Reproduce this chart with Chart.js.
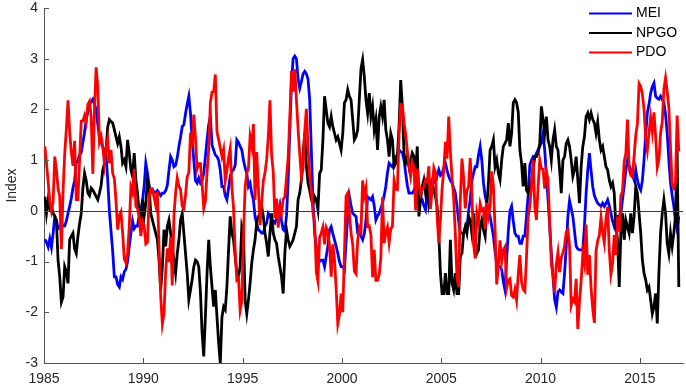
<!DOCTYPE html>
<html lang="en">
<head>
    <meta charset="UTF-8">
    <title>MEI, NPGO and PDO indices</title>
    <script src="https://cdn.jsdelivr.net/npm/chart.js"></script>
    <style>
        body { margin: 0; background: #fff; }
        #wrap { width: 686px; height: 388px; }
    </style>
</head>
<body>
<div id="wrap"><canvas id="indexChart" width="686" height="388"></canvas></div>
<script>
    // monthly values, Jan 1985 .. Dec 2016 (one row per year)
    const startYear = 1985;

    const mei = [
        -0.56,-0.62,-0.71,-0.55,-0.72,-0.45,-0.12,-0.18,-0.35,-0.32,-0.25,-0.30,
        -0.30,-0.20,-0.05,0.09,0.25,0.45,0.60,0.95,1.00,1.10,1.15,1.35,
        1.55,1.80,1.95,2.10,2.15,2.20,2.10,2.00,1.70,1.45,1.35,1.25,
        1.20,1.10,0.60,0.00,-0.40,-0.80,-1.30,-1.30,-1.45,-1.50,-1.30,-1.35,
        -1.20,-1.15,-1.00,-0.70,-0.44,-0.20,-0.35,-0.30,-0.30,-0.10,0.00,0.20,
        0.48,0.94,0.75,0.50,0.35,0.38,0.38,0.36,0.40,0.35,0.30,0.35,
        0.35,0.40,0.50,0.80,1.07,1.00,0.87,0.90,1.05,1.27,1.45,1.66,
        1.70,1.92,2.10,2.26,1.92,1.40,1.00,0.60,0.55,0.65,0.55,0.60,
        0.74,1.07,1.40,1.70,1.86,1.30,1.20,1.10,1.07,1.00,0.80,0.48,
        0.48,0.30,0.22,0.45,0.68,0.78,0.81,0.90,1.40,1.35,1.27,1.20,
        1.00,0.85,0.74,0.48,0.55,0.35,0.22,-0.11,-0.25,-0.37,-0.40,-0.44,
        -0.44,-0.30,-0.24,-0.05,-0.10,-0.18,-0.20,-0.24,-0.15,-0.05,0.10,-0.20,
        -0.37,-0.40,-0.10,0.60,1.60,2.50,3.00,3.05,3.00,2.60,2.42,2.55,
        2.70,2.75,2.70,2.60,2.20,1.20,0.20,-0.44,-0.70,-0.97,-1.00,-0.97,
        -0.97,-1.10,-0.90,-0.70,-0.37,-0.31,-0.45,-0.57,-0.70,-0.84,-1.00,-1.10,
        -1.10,-1.16,-0.60,-0.11,0.28,0.10,-0.05,-0.08,-0.11,-0.44,-0.44,-0.50,
        -0.57,-0.45,-0.20,0.28,0.25,0.22,0.28,0.10,-0.18,-0.10,-0.05,0.05,
        0.15,0.30,0.48,0.75,0.94,0.90,0.87,0.95,1.07,1.10,1.20,1.17,
        1.14,1.00,0.74,0.50,0.35,0.35,0.35,0.40,0.48,0.35,0.15,0.20,
        0.22,0.10,0.02,0.30,0.48,0.55,0.61,0.58,0.55,0.70,0.81,0.70,
        0.74,0.85,0.94,0.80,0.68,0.60,0.55,0.45,0.35,0.09,-0.20,-0.44,
        -0.44,-0.44,-0.40,-0.37,0.00,0.22,0.60,0.74,0.87,0.87,1.10,1.27,
        1.00,0.55,0.30,0.15,0.00,-0.11,-0.30,-0.50,-0.80,-1.03,-1.10,-1.10,
        -1.16,-1.40,-1.56,-0.95,-0.40,0.00,0.09,-0.20,-0.44,-0.50,-0.50,-0.64,
        -0.64,-0.50,-0.50,-0.10,0.30,0.90,1.00,1.07,1.05,1.14,1.20,1.27,
        1.35,1.53,1.20,0.70,0.22,-0.30,-0.84,-1.30,-1.75,-1.90,-1.60,-1.56,
        -1.60,-1.63,-1.23,-0.70,-0.11,0.20,0.05,-0.11,-0.40,-0.70,-0.75,-0.77,
        -0.77,-0.77,-0.30,0.35,0.80,1.14,0.80,0.48,0.30,0.22,0.15,0.12,
        0.09,0.15,0.09,0.15,0.22,0.10,-0.05,-0.20,-0.31,-0.18,-0.11,-0.11,
        -0.05,0.22,0.50,0.80,1.00,0.90,0.81,0.70,0.61,0.81,0.60,0.48,
        0.41,0.60,1.00,1.50,1.93,2.10,2.32,2.45,2.52,2.26,2.22,2.20,
        2.26,2.20,2.13,1.90,1.53,1.00,0.55,0.30,0.09,-0.20,-0.37,-0.11
    ];

    const npgo = [
        0.28,-0.05,0.22,0.05,0.10,-0.05,-0.10,-0.20,-0.97,-1.30,-1.80,-1.70,
        -1.10,-1.20,-1.43,-0.57,-0.50,-0.44,-0.75,-0.84,-0.50,-0.25,-0.05,0.45,
        0.74,0.60,0.35,0.30,0.45,0.41,0.35,0.28,0.22,0.35,0.50,0.80,
        0.94,1.20,1.66,1.80,1.76,1.73,1.60,1.46,1.33,1.46,1.27,0.94,
        1.00,0.87,1.40,1.14,0.81,0.68,1.14,0.61,0.35,-0.05,-0.31,0.22,
        -0.11,0.15,0.61,0.48,-0.05,-0.18,-0.31,-0.44,-0.57,-0.97,-1.56,-1.10,
        -0.37,-0.70,-0.31,-0.18,-0.44,-0.70,-0.97,-1.23,-0.84,-0.57,-0.18,-0.05,
        -0.44,-0.84,-1.23,-1.75,-1.56,-1.36,-1.10,-0.97,-1.00,-1.10,-1.60,-2.40,
        -2.87,-2.09,-1.23,-0.57,-1.10,-1.50,-1.89,-1.56,-2.09,-2.60,-3.00,-2.10,
        -1.89,-1.95,-1.50,-0.77,-0.11,-0.44,-0.57,-0.90,-1.23,-1.30,-1.10,-0.31,
        -0.44,-1.76,-2.03,-1.76,-1.43,-1.03,-0.77,-0.57,-0.24,-0.11,-0.05,0.09,
        -0.11,-0.44,-0.64,-0.90,-0.44,-0.05,-0.44,-0.57,-0.64,-0.90,-1.10,-1.30,
        -1.63,-0.84,-0.37,-0.57,-0.70,-0.64,-0.57,-0.44,-0.31,0.22,0.35,0.61,
        1.10,1.53,0.90,0.55,0.41,0.22,0.15,0.28,0.22,0.02,0.74,0.81,
        1.40,2.26,1.99,1.73,1.66,1.86,1.66,1.53,1.40,1.46,1.33,1.20,
        1.53,2.13,2.19,2.39,2.26,2.19,1.80,1.40,1.46,1.60,2.20,2.80,
        2.98,2.65,2.19,1.93,2.32,1.86,2.06,1.60,1.80,1.20,1.86,2.06,
        1.86,2.19,1.60,1.40,1.07,1.53,1.40,0.87,0.94,1.07,1.66,2.58,
        2.06,1.14,0.94,1.07,0.87,1.00,1.14,1.07,0.74,1.27,-0.11,0.22,
        0.48,0.61,0.35,0.61,0.15,0.35,0.55,0.41,0.28,0.09,-0.44,-1.23,
        -1.63,-1.63,-1.23,-1.63,-1.63,-0.57,-1.43,-1.56,-1.23,-1.63,-1.63,-0.90,
        -0.84,-0.44,-0.31,-0.44,-0.11,-0.18,-0.44,-0.05,-0.57,-0.84,-0.77,-0.31,
        -0.18,-0.37,-0.50,0.09,0.55,1.20,1.27,1.40,0.87,1.00,0.74,0.61,
        1.00,1.27,1.33,1.40,1.73,1.27,1.53,2.13,2.19,2.13,1.95,1.20,
        0.94,0.48,0.94,0.41,0.35,0.48,0.55,0.81,1.07,1.07,1.14,1.33,
        2.06,1.80,1.53,1.86,1.40,1.27,1.00,1.40,1.60,1.27,1.20,0.81,
        0.35,1.00,1.07,1.33,1.40,1.27,1.00,0.68,0.81,1.07,0.61,0.15,
        0.87,1.27,1.46,1.86,1.93,1.80,1.93,1.80,1.73,1.53,1.75,1.40,
        1.20,1.27,1.07,0.87,0.81,0.61,0.48,0.55,0.35,-0.31,-0.57,-1.50,
        -0.44,-0.05,-0.57,-0.18,-0.31,-0.44,-0.05,-0.44,-0.11,0.48,0.35,-0.05,
        -0.44,-0.97,-1.23,-1.36,-1.56,-1.50,-1.76,-2.03,-1.89,-1.63,-2.22,-1.20,
        -0.44,-0.05,0.22,-0.05,-0.64,-0.84,-0.44,-0.70,-0.44,-0.11,1.20,-1.50
    ];

    const pdo = [
        1.27,0.94,0.57,0.19,0.00,0.18,1.07,0.81,0.44,0.29,-0.75,0.38,
        1.12,1.61,2.18,1.55,1.16,0.89,1.38,0.22,0.22,1.00,1.77,1.77,
        1.88,1.75,2.10,2.16,1.85,0.73,2.01,2.83,2.44,1.36,1.47,1.27,
        0.93,1.24,1.42,0.94,1.20,0.74,0.64,0.19,-0.37,-0.10,-0.02,-0.43,
        -0.95,-1.02,-0.83,-0.32,0.47,0.36,0.83,0.09,0.05,-0.12,-0.50,-0.21,
        -0.30,-0.65,-0.62,0.27,0.44,0.44,0.27,0.11,0.38,-0.69,-1.69,-2.23,
        -2.02,-1.19,-0.74,-1.01,-0.51,-1.47,-0.10,0.36,0.65,0.49,0.42,0.09,
        0.05,0.31,0.67,0.75,1.54,1.26,1.90,1.44,0.83,0.93,0.93,0.53,
        0.05,0.19,0.76,1.21,2.13,2.34,2.35,2.69,1.56,1.41,1.24,1.07,
        1.21,0.59,0.80,1.05,1.23,0.46,0.06,-0.79,-1.36,-1.32,-1.96,-1.79,
        -0.49,0.46,0.75,0.83,1.46,1.27,1.71,0.21,1.16,0.47,-0.28,0.16,
        0.59,0.75,1.01,1.46,2.18,1.10,0.77,-0.14,0.24,-0.33,0.09,-0.03,
        0.23,0.28,0.65,1.05,1.83,2.76,2.35,2.79,2.19,1.61,1.12,0.67,
        0.83,1.56,2.01,1.27,0.70,0.40,-0.04,-0.22,-1.21,-1.39,-0.52,-0.44,
        -0.32,-0.66,-0.33,-0.41,-0.68,-1.30,-0.66,-0.96,-1.53,-2.23,-2.05,-1.63,
        -2.00,-0.83,0.29,0.35,-0.05,-0.44,-0.66,-1.19,-1.24,-0.58,-0.33,-0.41,
        0.60,0.29,0.45,-0.31,-0.30,-0.47,-1.31,-0.77,-1.37,-1.37,-1.26,-0.93,
        0.27,-0.64,-0.43,-0.32,-0.63,-0.35,-0.31,0.60,0.43,0.42,1.51,2.10,
        2.09,1.75,1.51,1.18,0.89,0.68,0.96,0.88,0.01,0.83,0.52,0.33,
        0.43,0.48,0.61,0.57,0.88,0.04,0.44,0.85,0.75,-0.11,-0.63,-0.17,
        0.44,0.81,1.36,1.03,1.86,1.17,0.66,0.25,-0.46,-1.32,-1.50,0.20,
        1.03,0.66,0.05,0.40,0.48,1.04,0.35,-0.65,-0.94,-0.05,-0.22,0.14,
        0.01,0.04,-0.36,0.16,-0.10,0.09,0.78,0.50,-0.36,-1.45,-1.08,-0.58,
        -1.00,-0.77,-0.71,-1.52,-1.37,-1.34,-1.67,-1.70,-1.55,-1.76,-1.25,-0.87,
        -1.40,-1.55,-1.59,-0.90,-0.11,0.09,0.48,1.00,0.09,-0.18,0.48,1.00,
        0.83,0.82,0.44,0.78,0.62,-0.22,-1.05,-1.27,-1.61,-1.06,-0.82,-1.21,
        -0.92,-0.83,-0.69,-0.42,-0.37,-0.69,-1.86,-1.74,-1.79,-1.34,-2.33,-1.79,
        -1.38,-0.85,-1.05,-0.27,-1.26,-0.87,-1.52,-1.93,-2.21,-0.79,-0.59,-0.48,
        -0.13,-0.43,-0.63,-0.16,0.08,-0.78,-1.25,-1.04,-0.48,-0.87,-0.11,-0.41,
        0.30,0.38,0.97,1.13,1.80,0.82,0.70,0.67,1.08,1.49,1.72,2.51,
        2.45,2.30,2.00,1.44,1.20,1.54,1.84,1.56,1.94,1.47,0.86,1.01,
        1.53,1.75,2.40,2.62,2.35,2.03,1.25,0.52,0.45,0.56,1.88,1.17
    ];

    const seriesNames = ['MEI', 'NPGO', 'PDO'];
    const seriesColors = ['#0000ff', '#000000', '#ff0000'];
    const yearTicks = [1985, 1990, 1995, 2000, 2005, 2010, 2015];
    const indexTicks = [-3, -2, -1, 0, 1, 2, 3, 4];

    const fontFamily = '"Liberation Sans", Arial, Helvetica, sans-serif';
    const axisColor = '#262626';

    // each monthly value sits in the middle of its month
    function toPoints(values) {
        return values.map((v, i) => ({ x: startYear + (i + 0.5) / 12, y: v }));
    }

    // inward tick marks, the zero line and the legend in the top right corner
    const axisExtras = {
        id: 'axisExtras',
        afterDatasetsDraw(chart) {
            const { ctx, chartArea: area, scales } = chart;
            ctx.save();

            const y0 = Math.round(scales.y.getPixelForValue(0)) + 0.5;
            ctx.strokeStyle = '#3a3a3a';
            ctx.lineWidth = 1;
            ctx.beginPath();
            ctx.moveTo(area.left, y0);
            ctx.lineTo(area.right, y0);
            ctx.stroke();

            ctx.strokeStyle = '#555';
            ctx.beginPath();
            yearTicks.forEach(t => {
                const px = Math.round(scales.x.getPixelForValue(t)) + 0.5;
                ctx.moveTo(px, area.bottom);
                ctx.lineTo(px, area.bottom - 5);
            });
            indexTicks.forEach(t => {
                const py = Math.round(scales.y.getPixelForValue(t)) + 0.5;
                ctx.moveTo(area.left, py);
                ctx.lineTo(area.left + 5, py);
            });
            ctx.stroke();

            ctx.font = '14px ' + fontFamily;
            ctx.textBaseline = 'middle';
            ctx.textAlign = 'left';
            chart.data.datasets.forEach((ds, i) => {
                const rowY = area.top + 5.5 + i * 19.5;
                ctx.strokeStyle = ds.borderColor;
                ctx.lineWidth = 2;
                ctx.beginPath();
                ctx.moveTo(area.right - 94, rowY);
                ctx.lineTo(area.right - 51, rowY);
                ctx.stroke();
                ctx.fillStyle = '#000';
                ctx.fillText(ds.label, area.right - 47, rowY);
            });
            ctx.restore();
        }
    };

    const seriesValues = [mei, npgo, pdo];
    const datasets = seriesNames.map((name, i) => ({
        label: name,
        data: toPoints(seriesValues[i]),
        borderColor: seriesColors[i],
        backgroundColor: seriesColors[i],
        borderWidth: 2.8,
        pointRadius: 0,
        tension: 0,
        fill: false,
        order: 3 - i   // PDO drawn last, on top
    }));

    const ctx = document.getElementById('indexChart').getContext('2d');
    new Chart(ctx, {
        type: 'line',
        data: { datasets: datasets },
        options: {
            responsive: false,
            animation: false,
            devicePixelRatio: 1,
            layout: { padding: { left: 0, right: 3, top: 8, bottom: 0 } },
            plugins: {
                legend: { display: false },
                tooltip: { enabled: false }
            },
            scales: {
                x: {
                    type: 'linear',
                    min: 1985,
                    max: 2017.17,
                    afterBuildTicks: scale => {
                        scale.ticks = yearTicks.map(v => ({ value: v }));
                    },
                    afterFit: scale => {
                        scale.height = 25;
                        scale.paddingLeft = 0;
                        scale.paddingRight = 0;
                    },
                    ticks: {
                        callback: v => String(v),
                        font: { family: fontFamily, size: 14 },
                        color: axisColor,
                        padding: 8,
                        maxRotation: 0,
                        autoSkip: false
                    },
                    grid: { display: false, drawTicks: false },
                    border: { display: true, color: '#555', width: 1 }
                },
                y: {
                    type: 'linear',
                    min: -3,
                    max: 4,
                    afterBuildTicks: scale => {
                        scale.ticks = indexTicks.map(v => ({ value: v }));
                    },
                    afterFit: scale => {
                        scale.width = 44;
                        scale.paddingTop = 0;
                        scale.paddingBottom = 0;
                    },
                    ticks: {
                        callback: v => String(v),
                        font: { family: fontFamily, size: 14 },
                        color: axisColor,
                        padding: 6
                    },
                    title: {
                        display: true,
                        text: 'Index',
                        font: { family: fontFamily, size: 14 },
                        color: axisColor,
                        padding: { top: 4, bottom: 0 }
                    },
                    grid: { display: false, drawTicks: false },
                    border: { display: true, color: '#555', width: 1 }
                }
            }
        },
        plugins: [axisExtras]
    });
</script>
</body>
</html>
